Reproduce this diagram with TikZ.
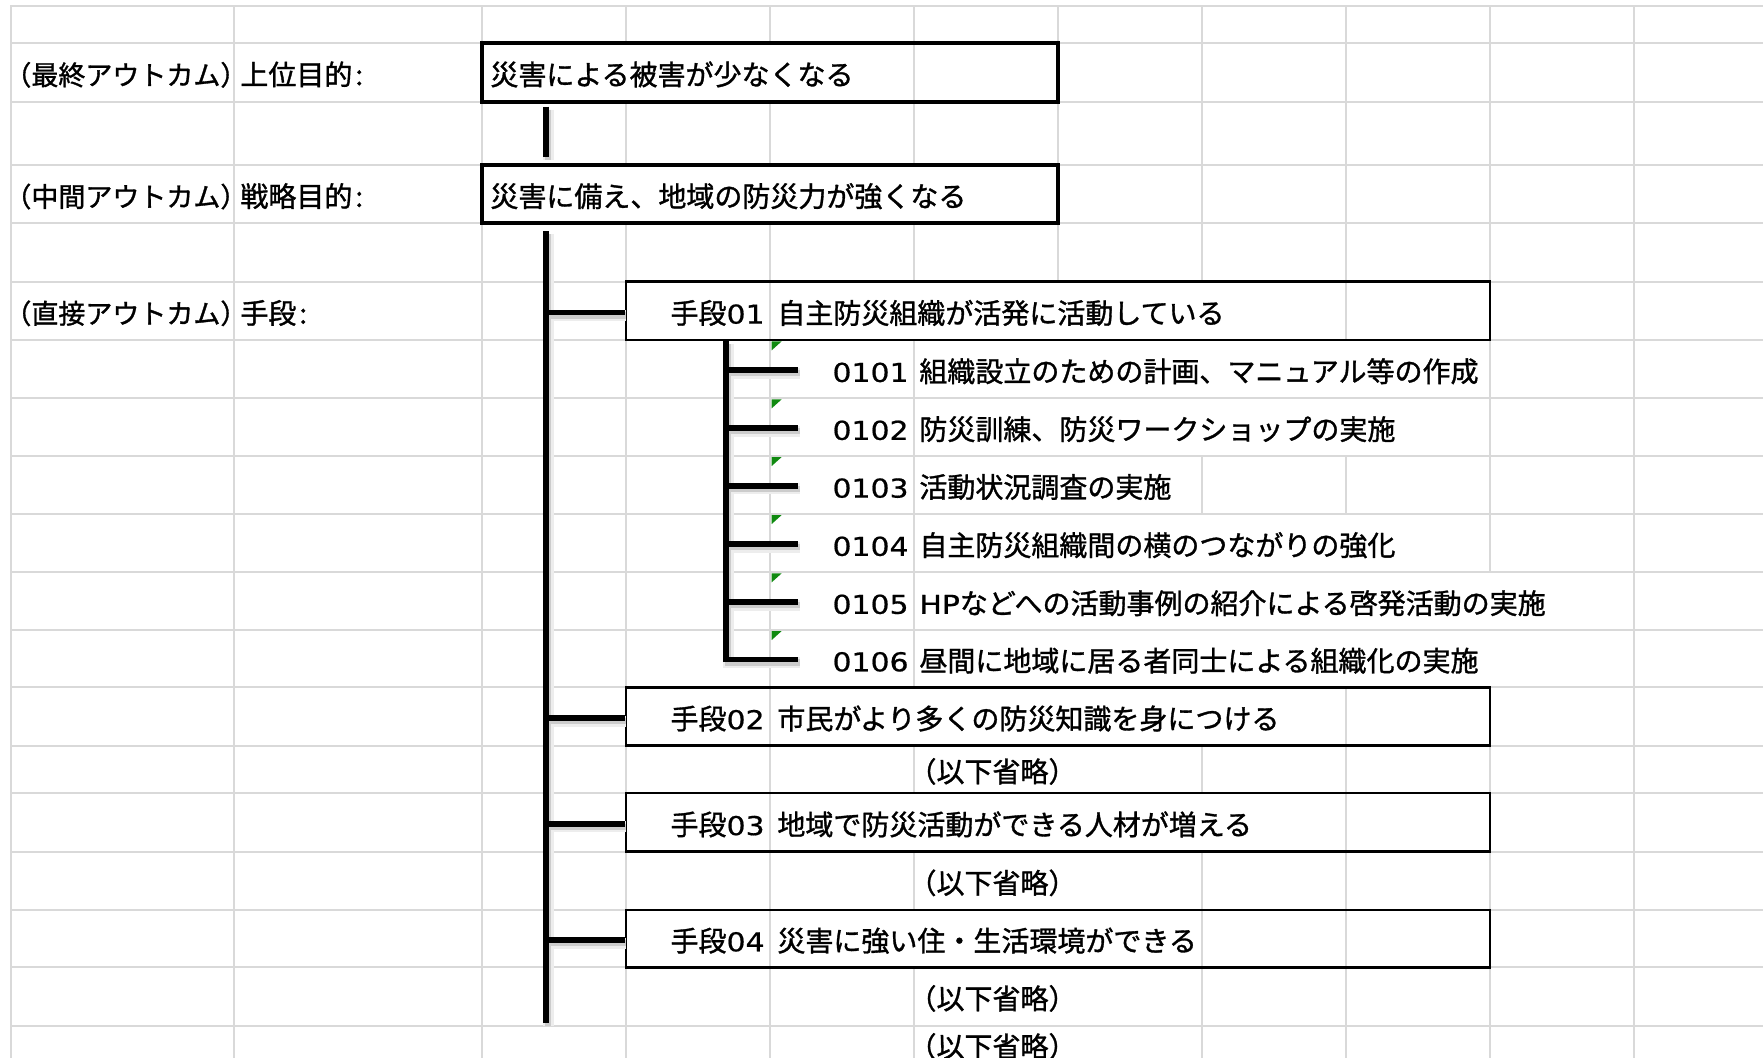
\documentclass[tikz,border=0pt]{standalone}
\usepackage{fontspec}
\usepackage{graphicx}
\setmainfont{Noto Sans CJK JP}[FakeBold=1.2]
\newfontfamily\digitfont{DejaVu Sans}[FakeBold=0.6]
\usetikzlibrary{fit,calc}
\definecolor{gridc}{HTML}{D9D9D9}
\definecolor{errgreen}{HTML}{108A10}
\newcommand\dg[1]{\scalebox{1.15}[1]{\digitfont\fontsize{13}{15}\selectfont #1}}
\newcommand\hidecells[4]{\fill[white] ({#1+1.1},{#2+1.1}) rectangle ({#3-1.1},{#4-1.1});}
\newcommand\errmark[1]{\fill[errgreen] (771.5,{#1+1.2}) -- (781.5,{#1+1.2}) -- (771.5,{#1+10.2}) -- cycle;}
\tikzset{
  gridln/.style={gridc, line width=1pt, line cap=rect},
  topbox/.style={draw, line width=1.9pt, inner sep=0pt},
  meansbox/.style={draw, line width=1.2pt, inner sep=0pt},
  conn/.style={line width=2.8pt},
  shadowA/.style={line width=5.5pt, black!7},
  shadowB/.style={line width=3.2pt, black!20},
  lbl/.style={inner sep=0pt, anchor=base west, font=\fontsize{14}{16}\selectfont},
  sidelbl/.style={lbl, font=\fontsize{13.5}{16}\selectfont},
}
\begin{document}
\begin{tikzpicture}[x=0.5pt, y=-0.5pt]
\useasboundingbox (0,0) rectangle (1763,1058);
\clip (0,0) rectangle (1763,1058);
\fill[white] (0,0) rectangle (1763,1058);

% ---- spreadsheet grid ----
\foreach \yy in {6,43.3,101.7,165,223.3,281.7,340.3,398.3,456,514,572.3,630,687.4,745.7,793.3,851.7,910,967.3,1025.7}
  \draw[gridln] (11,\yy) -- (1763,\yy);
\foreach \xx in {11,234,482,626,770,914,1058,1202,1346,1490,1634}
  \draw[gridln] (\xx,6) -- (\xx,1060);

% gridlines hidden by overflowing text
\hidecells{482}{43.3}{914}{101.7}
\hidecells{482}{165}{1058}{223.3}
\hidecells{770}{281.7}{1346}{340.3}
\hidecells{914}{340.3}{1490}{398.3}
\hidecells{914}{398.3}{1490}{456}
\hidecells{914}{456}{1202}{514}
\hidecells{914}{514}{1490}{572.3}
\hidecells{914}{572.3}{1634}{630}
\hidecells{914}{630}{1634}{687.4}
\hidecells{770}{687.4}{1346}{745.7}
\hidecells{914}{745.7}{1202}{793.3}
\hidecells{770}{793.3}{1346}{851.7}
\hidecells{914}{851.7}{1202}{910}
\hidecells{770}{910}{1202}{967.3}
\hidecells{914}{967.3}{1202}{1025.7}
\hidecells{914}{1025.7}{1202}{1062}

% green error indicators
\errmark{340.3}
\errmark{398.3}
\errmark{456}
\errmark{514}
\errmark{572.3}
\errmark{630}

% ---- boxes ----
\node[topbox, fit={(482,43.3) (1058,101.7)}] (g1) {};
\node[topbox, fit={(482,165) (1058,223.3)}] (g2) {};
\node[meansbox, fit={(626,281.7) (1490,340.3)}] (m1) {};
\node[meansbox, fit={(626,687.4) (1490,745.7)}] (m2) {};
\node[meansbox, fit={(626,793.3) (1490,851.7)}] (m3) {};
\node[meansbox, fit={(626,910) (1490,967.3)}] (m4) {};

% ---- connector anchors ----
\coordinate (tx) at (546,0);
\coordinate (sx) at (726,0);
\coordinate (tend) at (546,1023);
\coordinate (e1) at (798,370.3);
\coordinate (e2) at (798,428.2);
\coordinate (e3) at (798,486);
\coordinate (e4) at (798,544.2);
\coordinate (e5) at (798,602.2);
\coordinate (e6) at (798,659.7);

% ---- shadows ----
\foreach \sty in {shadowA,shadowB}{
  \draw[\sty] ($(g1.south -| tx)+(2,6)$) -- ($(g2.north -| tx)+(2,-3.5)$);
  \draw[\sty] ($(g2.south -| tx)+(2,9)$) -- ($(tend)+(2,3)$);
  \foreach \m in {m1,m2,m3,m4}
    \draw[\sty] ($(\m.west -| tx)+(2,4.5)$) -- ($(\m.west)+(1,4.5)$);
  \draw[\sty] ($(m1.south -| sx)+(2,3)$) |- ($(e6)+(2,3)$);
  \foreach \e in {e1,e2,e3,e4,e5}
    \draw[\sty] ($(\e -| sx)+(2,3)$) -- ($(\e)+(2,3)$);
}

% ---- connectors ----
\draw[conn] ($(g1.south -| tx)+(0,3)$) -- ($(g2.north -| tx)+(0,-6.5)$);
\draw[conn] ($(g2.south -| tx)+(0,6)$) -- (tend);
\foreach \m in {m1,m2,m3,m4}
  \draw[conn] ($(\m.west -| tx)+(0,1.5)$) -- ($(\m.west)+(0,1.5)$);
\draw[conn] (m1.south -| sx) |- (e6);
\foreach \e in {e1,e2,e3,e4,e5}
  \draw[conn] (\e -| sx) -- (\e);

% ---- left labels ----
\node[sidelbl] (k1) at (4,85.1) {（最終アウトカム）};
\node[lbl] (k1b) at (240,85.1) {上位目的\kern1.5pt:};
\node[sidelbl] (k2) at (4,206.8) {（中間アウトカム）};
\node[lbl] (k2b) at (240,206.8) {戦略目的\kern1.5pt:};
\node[sidelbl] (k3) at (4,323.6) {（直接アウトカム）};
\node[lbl] (k3b) at (240,323.6) {手段\kern1.5pt:};

% ---- box texts ----
\node[lbl] (t1) at (490,85.1) {災害による被害が少なくなる};
\node[lbl] (t2) at (490,206.8) {災害に備え、地域の防災力が強くなる};

\node[lbl, anchor=base east] (m1n) at (765,323.6) {手段\dg{01}};
\node[lbl] (m1t) at (777,323.6) {自主防災組織が活発に活動している};
\node[lbl, anchor=base east] (m2n) at (765,729.2) {手段\dg{02}};
\node[lbl] (m2t) at (777,729.2) {市民がより多くの防災知識を身につける};
\node[lbl, anchor=base east] (m3n) at (765,835.1) {手段\dg{03}};
\node[lbl] (m3t) at (777,835.1) {地域で防災活動ができる人材が増える};
\node[lbl, anchor=base east] (m4n) at (765,951.3) {手段\dg{04}};
\node[lbl] (m4t) at (777,951.3) {災害に強い住・生活環境ができる};

% ---- sub items ----
\node[lbl, anchor=base east] (s1n) at (909,381.9) {\dg{0101}};
\node[lbl] (s1t) at (919,381.9) {組織設立のための計画、マニュアル等の作成};
\node[lbl, anchor=base east] (s2n) at (909,439.8) {\dg{0102}};
\node[lbl] (s2t) at (919,439.8) {防災訓練、防災ワークショップの実施};
\node[lbl, anchor=base east] (s3n) at (909,497.6) {\dg{0103}};
\node[lbl] (s3t) at (919,497.6) {活動状況調査の実施};
\node[lbl, anchor=base east] (s4n) at (909,555.8) {\dg{0104}};
\node[lbl] (s4t) at (919,555.8) {自主防災組織間の横のつながりの強化};
\node[lbl, anchor=base east] (s5n) at (909,613.8) {\dg{0105}};
\node[lbl] (s5t) at (919,613.8) {\dg{HP}などへの活動事例の紹介による啓発活動の実施};
\node[lbl, anchor=base east] (s6n) at (909,671.3) {\dg{0106}};
\node[lbl] (s6t) at (919,671.3) {昼間に地域に居る者同士による組織化の実施};

% ---- omitted markers ----
\node[lbl, anchor=base] (o1) at (992.5,782.1) {（以下省略）};
\node[lbl, anchor=base] (o2) at (992.5,893.5) {（以下省略）};
\node[lbl, anchor=base] (o3) at (992.5,1009.1) {（以下省略）};
\node[lbl, anchor=base] (o4) at (992.5,1057.1) {（以下省略）};
\end{tikzpicture}
\end{document}
